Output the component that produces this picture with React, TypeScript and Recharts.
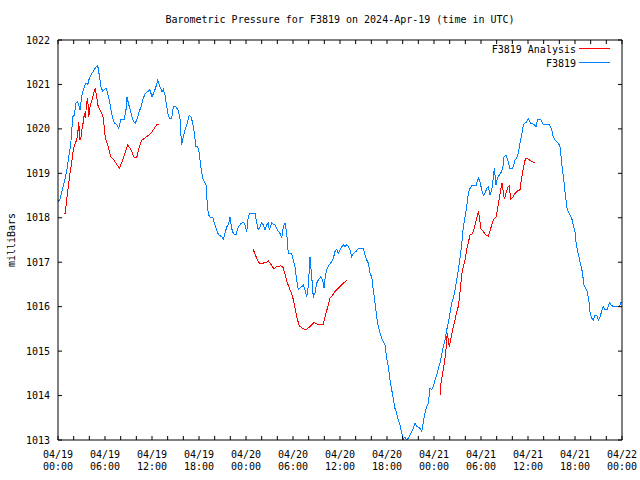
import React from 'react';
import { LineChart, Line, XAxis, YAxis, Legend } from 'recharts';

// hours since 2024-04-19 00:00 UTC, pressure in milliBars
const stationReadings: [number, number][] = [
  [0,1018.36],[0.26,1018.42],[0.51,1018.59],[0.80,1018.81],[1.11,1019.04],[1.37,1019.37],[1.62,1019.64],[1.88,1020.27],[2.08,1020.31],[2.30,1020.58],[2.51,1020.61],[2.81,1020.43],[3.06,1020.76],[3.36,1020.95],[3.57,1021.03],[3.79,1020.99],[4.00,1021.14],[4.34,1021.25],[4.63,1021.33],[4.85,1021.40],[5.07,1021.42],[5.27,1021.21],[5.49,1020.95],[5.71,1020.84],[5.91,1020.88],[6.13,1020.91],[6.34,1020.80],[6.55,1020.65],[6.77,1020.43],[6.98,1020.24],[7.19,1020.13],[7.49,1020.10],[7.75,1020.01],[8.04,1020.22],[8.46,1020.22],[8.68,1020.43],[8.81,1020.71],[9.10,1020.50],[9.45,1020.27],[9.66,1020.16],[9.87,1020.13],[10.05,1020.20],[10.30,1020.35],[10.60,1020.50],[10.81,1020.65],[11.14,1020.80],[11.45,1020.84],[11.74,1020.88],[12.00,1020.72],[12.29,1020.84],[12.51,1020.95],[12.73,1021.10],[12.93,1020.99],[13.28,1020.84],[13.44,1020.89],[13.66,1020.76],[13.88,1020.50],[14.08,1020.31],[14.30,1020.22],[14.52,1020.24],[14.72,1020.50],[15.06,1020.50],[15.36,1020.41],[15.57,1020.24],[15.66,1019.94],[15.79,1019.64],[16.00,1019.82],[16.21,1019.98],[16.51,1020.13],[16.76,1020.31],[16.98,1020.27],[17.20,1020.13],[17.40,1019.90],[17.62,1019.60],[17.83,1019.60],[18.04,1019.45],[18.22,1019.15],[18.47,1018.89],[18.68,1018.81],[18.89,1018.74],[19.11,1018.18],[19.32,1018.02],[19.75,1018.01],[20.04,1017.84],[20.26,1017.73],[20.46,1017.63],[20.90,1017.57],[21.10,1017.52],[21.32,1017.65],[21.54,1017.80],[21.74,1017.84],[21.96,1018.02],[22.17,1017.76],[22.38,1017.65],[22.72,1017.61],[23.02,1017.80],[23.32,1017.86],[23.66,1017.90],[23.87,1017.84],[24.09,1017.69],[24.29,1018.02],[24.51,1018.10],[25.15,1018.10],[25.37,1017.88],[25.57,1017.73],[25.79,1017.80],[26.00,1017.89],[26.21,1017.84],[26.43,1017.73],[26.64,1017.84],[26.85,1017.88],[26.98,1017.73],[27.28,1017.88],[27.70,1017.84],[28.00,1017.73],[28.34,1017.65],[28.56,1017.54],[28.76,1017.80],[28.98,1017.88],[29.20,1017.65],[29.40,1017.20],[29.83,1017.20],[30.26,1016.90],[30.47,1016.60],[30.68,1016.39],[31.11,1016.45],[31.32,1016.49],[31.53,1016.38],[31.75,1016.22],[31.95,1016.45],[32.17,1017.12],[32.39,1016.67],[32.59,1016.22],[32.81,1016.30],[33.03,1016.53],[33.23,1016.60],[33.54,1016.67],[33.79,1016.60],[33.96,1016.41],[34.12,1016.67],[34.30,1016.83],[34.63,1016.94],[34.94,1017.01],[35.15,1017.09],[35.36,1017.24],[35.58,1017.29],[35.78,1017.20],[36.00,1017.28],[36.22,1017.35],[36.42,1017.39],[36.64,1017.35],[36.86,1017.40],[37.06,1017.35],[37.28,1017.28],[37.49,1017.12],[37.70,1017.20],[38.04,1017.24],[38.34,1017.31],[38.98,1017.31],[39.19,1017.16],[39.41,1017.05],[39.61,1016.98],[39.83,1016.75],[40.05,1016.67],[40.25,1016.38],[40.47,1016.08],[40.69,1015.77],[40.89,1015.55],[41.11,1015.40],[41.32,1015.29],[41.53,1015.21],[41.74,1015.14],[41.96,1014.84],[42.17,1014.65],[42.38,1014.35],[42.60,1014.13],[42.80,1013.94],[43.02,1013.71],[43.24,1013.60],[43.44,1013.45],[43.66,1013.34],[43.88,1013.15],[44.08,1013.02],[44.30,1013.07],[44.52,1013.00],[44.72,1013.04],[44.94,1013.11],[45.15,1013.19],[45.36,1013.26],[45.57,1013.38],[45.79,1013.30],[46.00,1013.29],[46.21,1013.26],[46.43,1013.19],[46.64,1013.41],[46.85,1013.60],[47.07,1013.75],[47.27,1013.83],[47.49,1014.16],[47.70,1014.13],[47.91,1014.20],[48.13,1014.35],[48.34,1014.46],[48.55,1014.61],[48.77,1014.73],[48.98,1014.91],[49.19,1015.10],[49.40,1015.25],[49.62,1015.48],[49.83,1015.63],[50.04,1015.85],[50.26,1016.08],[50.47,1016.19],[50.68,1016.38],[50.90,1016.60],[51.10,1016.83],[51.32,1017.10],[51.53,1017.39],[51.74,1017.80],[51.96,1018.02],[52.17,1018.25],[52.38,1018.55],[52.60,1018.66],[52.81,1018.72],[53.36,1018.72],[53.66,1018.90],[53.87,1018.81],[54.09,1018.63],[54.29,1018.51],[54.51,1018.55],[54.73,1018.66],[54.93,1018.70],[55.15,1018.51],[55.37,1018.63],[55.57,1018.89],[55.70,1019.11],[55.91,1018.74],[56.08,1018.89],[56.34,1018.96],[56.64,1019.04],[56.85,1019.19],[56.94,1019.37],[57.19,1019.41],[57.48,1019.26],[57.70,1019.11],[58.05,1019.11],[58.34,1019.30],[58.56,1019.34],[58.76,1019.45],[58.98,1019.68],[59.19,1019.86],[59.40,1020.09],[59.62,1020.13],[59.83,1020.16],[60.04,1020.22],[60.34,1020.13],[60.68,1020.11],[61.02,1020.05],[61.24,1020.22],[61.62,1020.22],[61.96,1020.10],[62.72,1020.10],[63.02,1019.98],[63.23,1019.82],[63.45,1019.75],[63.87,1019.68],[64.09,1019.60],[64.30,1019.24],[64.43,1019.04],[64.60,1018.81],[64.72,1018.59],[64.85,1018.40],[65.02,1018.18],[65.27,1018.10],[65.58,1017.99],[65.78,1017.84],[66.00,1017.69],[66.13,1017.46],[66.29,1017.28],[66.51,1017.12],[66.64,1017.01],[66.86,1016.86],[66.98,1016.71],[67.15,1016.49],[67.37,1016.41],[67.57,1016.34],[67.79,1016.11],[67.91,1015.89],[68.13,1015.74],[68.34,1015.70],[68.55,1015.81],[68.77,1015.81],[68.98,1015.70],[69.19,1015.77],[69.41,1015.90],[69.61,1016.00],[69.83,1015.93],[70.12,1015.93],[70.38,1016.09],[70.60,1016.04],[70.89,1016.00],[71.66,1016.00],[71.84,1016.09],[72,1016.08],
];

const analysisRun1: [number, number][] = [
  [0.80,1018.10],[0.93,1018.10],[1.11,1018.40],[1.37,1018.78],[1.53,1019.00],[1.79,1019.30],[1.95,1019.53],[2.21,1019.68],[2.39,1019.75],[2.51,1019.86],[2.64,1020.16],[2.81,1019.75],[2.94,1019.82],[3.06,1019.98],[3.23,1020.16],[3.36,1020.35],[3.49,1020.24],[3.66,1020.58],[3.79,1020.69],[3.92,1020.27],[4.09,1020.50],[4.34,1020.65],[4.56,1020.80],[4.76,1020.91],[4.94,1020.72],[5.07,1020.54],[5.27,1020.46],[5.71,1020.31],[5.91,1020.05],[6.04,1019.79],[6.34,1019.64],[6.55,1019.49],[6.77,1019.37],[7.06,1019.32],[7.40,1019.23],[7.83,1019.11],[8.17,1019.26],[8.46,1019.41],[8.90,1019.64],[9.32,1019.53],[9.74,1019.35],[10.05,1019.35],[10.38,1019.60],[10.72,1019.75],[11.14,1019.80],[11.58,1019.86],[11.87,1019.90],[12.29,1020.01],[12.60,1020.09],[12.93,1020.11],
];
const analysisRun2: [number, number][] = [
  [24.86,1017.31],[25.02,1017.24],[25.37,1017.09],[25.70,1016.98],[26.13,1016.98],[26.55,1016.99],[26.85,1017.03],[27.15,1016.96],[27.57,1016.85],[27.92,1016.90],[28.43,1016.92],[28.69,1016.90],[28.98,1016.74],[29.27,1016.54],[29.62,1016.38],[29.96,1016.22],[30.26,1015.96],[30.47,1015.77],[30.80,1015.57],[31.24,1015.51],[31.66,1015.48],[32.17,1015.55],[32.68,1015.64],[33.10,1015.61],[33.87,1015.61],[34.09,1015.77],[34.38,1015.96],[34.72,1016.19],[35.07,1016.26],[35.36,1016.34],[35.78,1016.41],[36.22,1016.49],[36.64,1016.56],[36.86,1016.60],
];
const analysisRun3: [number, number][] = [
  [48.77,1014.01],[48.89,1014.28],[49.11,1014.50],[49.32,1014.73],[49.53,1015.03],[49.62,1015.29],[49.70,1015.40],[49.83,1015.25],[49.95,1015.10],[50.13,1015.25],[50.38,1015.48],[50.68,1015.70],[50.90,1015.89],[51.10,1016.00],[51.32,1016.32],[51.53,1016.71],[51.74,1016.90],[51.96,1017.05],[52.17,1017.28],[52.38,1017.44],[52.60,1017.61],[52.94,1017.65],[53.24,1017.84],[53.45,1017.99],[53.66,1018.14],[53.79,1018.02],[53.97,1017.76],[54.31,1017.69],[54.64,1017.61],[54.93,1017.59],[55.24,1017.76],[55.57,1017.95],[55.91,1018.02],[56.13,1018.21],[56.34,1018.44],[56.52,1018.63],[56.68,1018.78],[56.85,1018.59],[56.98,1018.42],[57.19,1018.55],[57.48,1018.70],[57.61,1018.72],[57.79,1018.42],[58.05,1018.46],[58.34,1018.55],[58.64,1018.60],[58.98,1018.63],[59.11,1018.81],[59.32,1019.04],[59.53,1019.23],[59.70,1019.34],[60.04,1019.32],[60.34,1019.28],[60.60,1019.26],[60.89,1019.24],
];
const analysisGaps = [18, 42];

const yTicks = [1013, 1014, 1015, 1016, 1017, 1018, 1019, 1020, 1021, 1022];
const xTicks = [0,2,4,6,8,10,12,14,16,18,20,22,24,26,28,30,32,34,36,38,40,42,44,46,48,50,52,54,56,58,60,62,64,66,68,70,72];
const dayLabels = ['04/19', '04/20', '04/21', '04/22'];
const timeLabels = ['00:00', '06:00', '12:00', '18:00'];
const seriesNames = ['F3819 Analysis', 'F3819'];

const TITLE = 'Barometric Pressure for F3819 on 2024-Apr-19 (time in UTC)';
const FONT = '"DejaVu Sans Mono", "Liberation Mono", monospace';
const RED = '#ff0000';
const BLUE = '#0080ff';
const seriesColors = [RED, BLUE];

const toRows = (pts: [number, number][]) => pts.map(([t, v]) => ({ t, v }));
const stationData = toRows(stationReadings);
const analysisData = [
  ...toRows(analysisRun1),
  { t: analysisGaps[0], v: null },
  ...toRows(analysisRun2),
  { t: analysisGaps[1], v: null },
  ...toRows(analysisRun3),
];

const BottomTick = (props: any) => {
  const { x, y, payload } = props;
  const h = payload.value as number;
  if (h % 6 !== 0) return <g />;
  const day = dayLabels[Math.floor(h / 24)];
  const time = timeLabels[(h % 24) / 6];
  return (
    <text x={x} y={y} textAnchor="middle" fontFamily={FONT} fontSize={10} fill="#000">
      <tspan x={x} dy={10}>{day}</tspan>
      <tspan x={x} dy={12}>{time}</tspan>
    </text>
  );
};

const LeftTick = (props: any) => {
  const { x, y, payload } = props;
  return (
    <text x={x} y={y} textAnchor="end" dominantBaseline="central" fontFamily={FONT} fontSize={10} fill="#000">
      {payload.value}
    </text>
  );
};

const Empty = () => <g />;

const LegendBox = () => (
  <svg width={150} height={32} style={{ display: 'block' }}>
    {seriesNames.map((name, i) => (
      <g key={name}>
        <text x={106} y={9 + i * 14} textAnchor="end" dominantBaseline="central" fontFamily={FONT} fontSize={10} fill="#000">
          {name}
        </text>
        <line x1={109} x2={140} y1={8.5 + i * 14} y2={8.5 + i * 14} stroke={seriesColors[i]} strokeWidth={1} />
      </g>
    ))}
  </svg>
);

export default function App() {
  return (
    <div style={{ position: 'absolute', left: 0, top: 0, width: 640, height: 480, background: '#fff' }}>
      <div
        style={{
          position: 'absolute', left: 58, top: 14, width: 564, textAlign: 'center',
          fontFamily: FONT, fontSize: 10, lineHeight: '12px', color: '#000',
        }}
      >
        {TITLE}
      </div>
      <LineChart width={640} height={480} margin={{ top: 39, right: 17, bottom: 0, left: 0 }}>
        <XAxis
          dataKey="t" type="number" domain={[0, 72]} ticks={xTicks} allowDataOverflow
          height={40} tickSize={-4} tickMargin={12} interval={0}
          stroke="#000" tick={<BottomTick />}
        />
        <XAxis
          xAxisId="top" orientation="top" dataKey="t" type="number" domain={[0, 72]} ticks={xTicks}
          allowDataOverflow height={1} tickSize={-4} interval={0} stroke="#000" tick={<Empty />}
        />
        <YAxis
          type="number" domain={[1013, 1022]} ticks={yTicks} allowDataOverflow width={58}
          tickSize={-4} tickMargin={12} interval={0} stroke="#000" tick={<LeftTick />}
          label={{
            content: (p: any) => {
              const vb = p.viewBox || { x: 0, y: 40, width: 58, height: 400 };
              const cx = vb.x + 11;
              const cy = vb.y + vb.height / 2;
              return (
                <text x={cx} y={cy} transform={`rotate(-90, ${cx}, ${cy})`} textAnchor="middle"
                  dominantBaseline="central" fontFamily={FONT} fontSize={10} fill="#000">
                  milliBars
                </text>
              );
            },
          }}
        />
        <YAxis
          yAxisId="right" orientation="right" type="number" domain={[1013, 1022]} ticks={yTicks}
          allowDataOverflow width={1} tickSize={-4} interval={0} stroke="#000" tick={<Empty />}
        />
        <Legend
          layout="horizontal" verticalAlign="middle" align="center"
          wrapperStyle={{ position: 'absolute', left: 470, top: 40, width: 150, height: 32 }}
          content={<LegendBox />}
        />
        <Line
          name={seriesNames[0]} data={analysisData} dataKey="v" type="linear" stroke={RED}
          strokeWidth={1} dot={false} activeDot={false} connectNulls={false} isAnimationActive={false}
          shapeRendering="crispEdges"
        />
        <Line
          name={seriesNames[1]} data={stationData} dataKey="v" type="linear" stroke={BLUE}
          xAxisId="top" yAxisId="right" shapeRendering="crispEdges"
          strokeWidth={1} dot={false} activeDot={false} isAnimationActive={false}
        />
      </LineChart>
    </div>
  );
}
